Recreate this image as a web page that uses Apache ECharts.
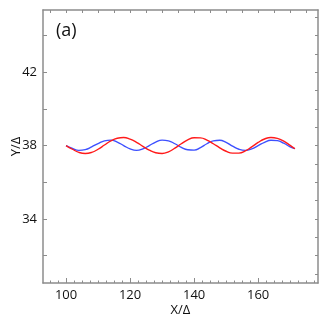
<!DOCTYPE html>
<html>
<head>
<meta charset="utf-8">
<script src="https://cdn.jsdelivr.net/npm/echarts@6/dist/echarts.min.js"></script>
<style>
  html, body { margin: 0; padding: 0; background: #fff; }
  #chart { width: 327px; height: 327px; }
</style>
</head>
<body>
<div id="chart"></div>
<script>
// x positions (X/Δ)
const xValues = [100, 102, 104, 106, 108, 110, 112, 114, 116, 118, 120, 122, 124, 126, 128, 130,
  132, 134, 136, 138, 140, 142, 144, 146, 148, 150, 152, 154, 156, 158, 160, 162, 164, 166, 168, 170, 171.5];

// red curve (Y/Δ)
const redY = [38.00, 37.80, 37.63, 37.57, 37.63, 37.80, 38.03, 38.26, 38.40, 38.44, 38.35, 38.18, 37.96,
  37.75, 37.61, 37.57, 37.66, 37.86, 38.10, 38.31, 38.43, 38.42, 38.30, 38.10, 37.88, 37.69, 37.59,
  37.59, 37.71, 37.93, 38.17, 38.36, 38.44, 38.39, 38.24, 38.01, 37.83];

// blue curve (Y/Δ)
const blueY = [38.00, 37.84, 37.74, 37.78, 37.93, 38.11, 38.26, 38.30, 38.19, 38.00, 37.82, 37.74, 37.82,
  38.00, 38.19, 38.30, 38.26, 38.10, 37.90, 37.77, 37.75, 37.89, 38.10, 38.26, 38.29, 38.17, 37.97,
  37.80, 37.74, 37.82, 38.00, 38.18, 38.29, 38.27, 38.13, 37.93, 37.83];

const xLabels = [100, 120, 140, 160];
const yLabels = [34, 38, 42];

const range = (a, b, step) => {
  const out = [];
  for (let v = a; v <= b + 1e-9; v += step) out.push(+v.toFixed(2));
  return out;
};

const axisGrey = "#8c8c8c";
const font = "'Open Sans', 'DejaVu Sans', sans-serif";

const chart = echarts.init(document.getElementById("chart"));

chart.setOption({
  animation: false,
  grid: { left: 43, top: 10, right: 9, bottom: 44, containLabel: false, outerBoundsMode: "none" },
  graphic: [
    {
      type: "text",
      left: 56,
      top: 22,
      style: { text: "(a)", font: "18px " + font, fill: "#111" },
    },
  ],
  xAxis: [
    {
      type: "value",
      min: 92.8,
      max: 178.7,
      position: "bottom",
      name: "X/Δ",
      nameLocation: "middle",
      nameGap: 21,
      nameMoveOverlap: false,
      nameTextStyle: { fontSize: 13, color: "#111", fontFamily: font },
      axisLine: { lineStyle: { color: axisGrey, width: 1.5 } },
      axisTick: { inside: true, length: 5, customValues: xLabels, lineStyle: { color: axisGrey } },
      axisLabel: { customValues: xLabels, fontSize: 13, color: "#111", fontFamily: font, margin: 6 },
      splitLine: { show: false },
    },
    {
      type: "value",
      min: 92.8,
      max: 178.7,
      position: "bottom",
      axisLine: { show: false },
      axisTick: { inside: true, length: 2.5, customValues: range(95, 177.5, 2.5), lineStyle: { color: axisGrey } },
      axisLabel: { show: false },
      splitLine: { show: false },
    },
    {
      type: "value",
      min: 92.8,
      max: 178.7,
      position: "top",
      axisLine: { lineStyle: { color: axisGrey, width: 1.5 } },
      axisTick: { inside: true, length: 3, customValues: range(95, 175, 5), lineStyle: { color: axisGrey } },
      axisLabel: { show: false },
      splitLine: { show: false },
    },
  ],
  yAxis: [
    {
      type: "value",
      min: 30.5,
      max: 45.4,
      position: "left",
      name: "Y/Δ",
      nameLocation: "middle",
      nameGap: 20,
      nameRotate: 90,
      nameMoveOverlap: false,
      nameTextStyle: { fontSize: 13, color: "#111", fontFamily: font },
      axisLine: { show: true, lineStyle: { color: axisGrey, width: 1.5 } },
      axisTick: { show: true, inside: true, length: 4, customValues: range(32, 44, 2), lineStyle: { color: axisGrey } },
      axisLabel: { customValues: yLabels, fontSize: 13, color: "#111", fontFamily: font, margin: 6 },
      splitLine: { show: false },
    },
    {
      type: "value",
      min: 30.5,
      max: 45.4,
      position: "right",
      axisLine: { show: true, lineStyle: { color: axisGrey, width: 1.5 } },
      axisTick: { show: true, inside: true, length: 3, customValues: range(31, 45, 1), lineStyle: { color: axisGrey } },
      axisLabel: { show: false },
      splitLine: { show: false },
    },
  ],
  series: [
    {
      type: "line",
      data: xValues.map((x, i) => [x, blueY[i]]),
      smooth: true,
      symbol: "none",
      lineStyle: { color: "#3d50ff", width: 1.4 },
    },
    {
      type: "line",
      data: xValues.map((x, i) => [x, redY[i]]),
      smooth: true,
      symbol: "none",
      lineStyle: { color: "#ff1a1a", width: 1.4 },
    },
  ],
});
</script>
</body>
</html>
